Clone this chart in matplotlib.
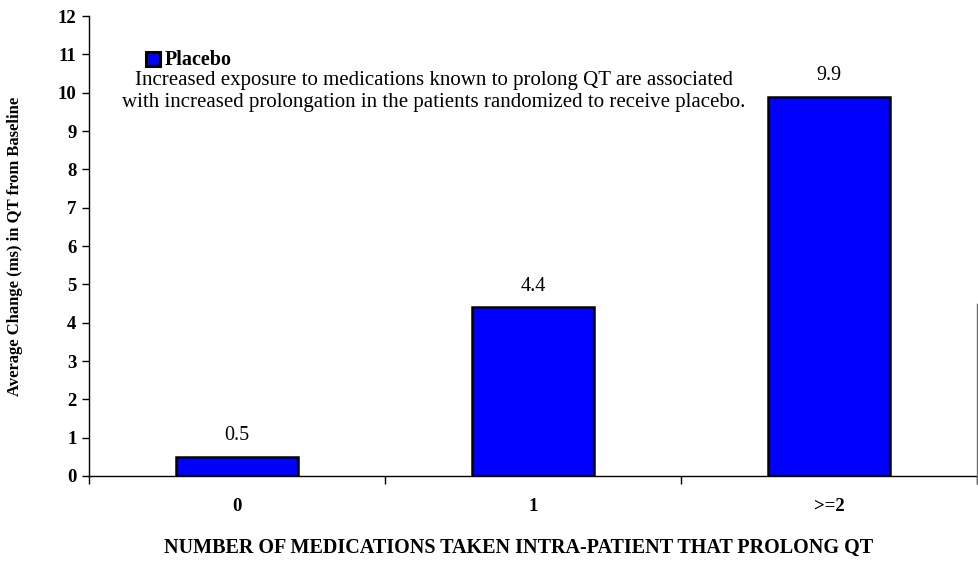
import matplotlib
matplotlib.use("Agg")
import matplotlib.pyplot as plt
from matplotlib.lines import Line2D
from matplotlib.patches import Rectangle

plt.rcParams["font.family"] = ["Liberation Serif", "DejaVu Serif"]

categories = ["0", "1", ">=2"]
placebo = [0.5, 4.4, 9.9]
y_ticks = list(range(0, 13))

W, H = 979, 569
fig = plt.figure(figsize=(W / 100, H / 100), dpi=100)
ax = fig.add_axes([89 / W, 93 / H, (977 - 89) / W, 460 / H])

x = list(range(len(categories)))
bars = ax.bar(x, placebo, width=0.41, color="#0000ff", edgecolor="black",
              linewidth=1.8, zorder=3)
for xi, v in zip(x, placebo):
    ax.text(xi, v + 0.3, f"{v:.1f}", ha="center", va="bottom", fontsize=14.5)

ax.set_xlim(-0.5, len(categories) - 0.5)
ax.set_ylim(0, 12)
ax.set_yticks(y_ticks)
ax.set_yticklabels([str(t) for t in y_ticks], fontweight="bold", fontsize=13.5)
ax.set_xticks(x)
ax.set_xticklabels(categories, fontweight="bold", fontsize=13.5)
ax.tick_params(axis="x", which="major", length=0, pad=16)
ax.set_xticks([i - 0.5 for i in range(len(categories) + 1)], minor=True)
ax.tick_params(axis="x", which="minor", length=6, width=1, direction="out")
ax.tick_params(axis="y", length=5, width=1, pad=4)

for side in ("top", "right"):
    ax.spines[side].set_visible(False)
for side in ("left", "bottom"):
    ax.spines[side].set_linewidth(1)

fig.text(15 / W, 1 - 246 / H, "Average Change (ms) in QT from Baseline",
         rotation=90, fontweight="bold", fontsize=12, ha="center", va="center")
fig.text(519 / W, 1 - 548 / H,
         "NUMBER OF MEDICATIONS TAKEN INTRA-PATIENT THAT PROLONG QT",
         fontweight="bold", fontsize=14.5, ha="center", va="center")

# legend entry
fig.patches.append(Rectangle((146 / W, 1 - 66 / H), 14 / W, 14 / H,
                             transform=fig.transFigure, facecolor="#0000ff",
                             edgecolor="black", linewidth=2.2))
fig.text(165 / W, 1 - 65 / H, "Placebo", fontweight="bold", fontsize=14.5,
         va="baseline", ha="left")

fig.text(434 / W, 1 - 80 / H,
         "Increased exposure to medications known to prolong QT are associated",
         ha="center", va="center", fontsize=15)
fig.text(434 / W, 1 - 102 / H,
         "with increased prolongation in the patients randomized to receive placebo.",
         ha="center", va="center", fontsize=15)

# gray frame remnant at the right edge
fig.add_artist(Line2D([977.5 / W, 977.5 / W], [1 - 304 / H, 1 - 483 / H],
                      transform=fig.transFigure, color="#707070", linewidth=1))

fig.savefig("out.png", dpi=100)
